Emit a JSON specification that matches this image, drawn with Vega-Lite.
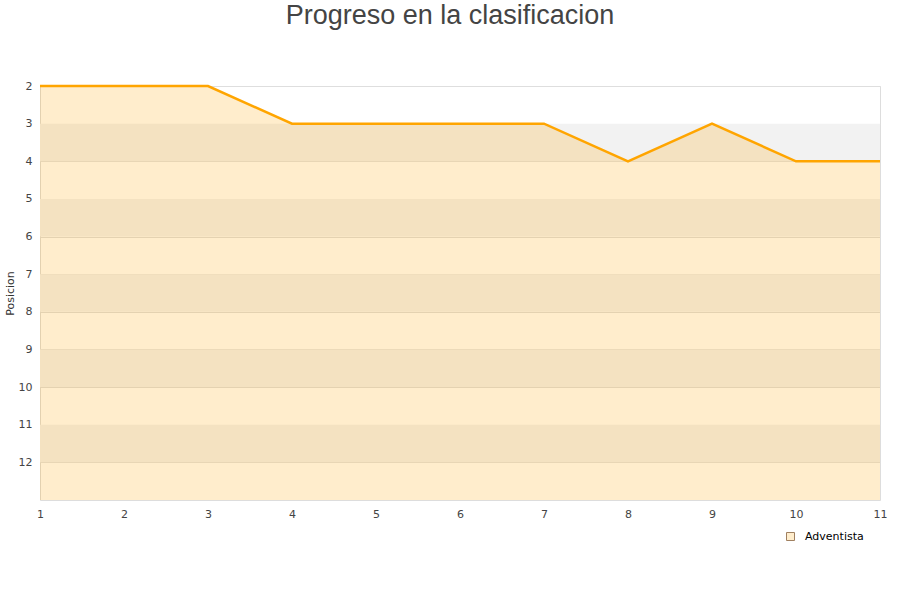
{
  "$schema": "https://vega.github.io/schema/vega-lite/v6.json",
  "width": 840,
  "height": 414,
  "autosize": {"type": "none"},
  "padding": {"left": 40, "top": 86, "right": 20, "bottom": 100},
  "title": {"text": "Progreso en la clasificacion", "font": "Liberation Sans", "fontSize": 27, "fontWeight": "normal", "color": "#444444", "anchor": "middle", "dx": -10, "offset": 50},
  "config": {
    "view": {"stroke": "#dddddd"},
    "axis": {"labelFont": "DejaVu Sans", "labelFontSize": 11, "labelColor": "#444444", "titleFont": "DejaVu Sans", "titleFontSize": 11, "titleFontWeight": "normal", "titleColor": "#333333", "ticks": false, "domain": false}
  },
  "datasets": {
    "bands": [{"y1": 3, "y2": 4}, {"y1": 5, "y2": 6}, {"y1": 7, "y2": 8}, {"y1": 9, "y2": 10}, {"y1": 11, "y2": 12}],
    "prog": [
      {"jornada": 1, "pos": 2, "equipo": "Adventista"},
      {"jornada": 2, "pos": 2, "equipo": "Adventista"},
      {"jornada": 3, "pos": 2, "equipo": "Adventista"},
      {"jornada": 4, "pos": 3, "equipo": "Adventista"},
      {"jornada": 5, "pos": 3, "equipo": "Adventista"},
      {"jornada": 6, "pos": 3, "equipo": "Adventista"},
      {"jornada": 7, "pos": 3, "equipo": "Adventista"},
      {"jornada": 8, "pos": 4, "equipo": "Adventista"},
      {"jornada": 9, "pos": 3, "equipo": "Adventista"},
      {"jornada": 10, "pos": 4, "equipo": "Adventista"},
      {"jornada": 11, "pos": 4, "equipo": "Adventista"}
    ]
  },
  "layer": [
    {
      "data": {"name": "bands"},
      "mark": {"type": "rect", "color": "#f2f2f2"},
      "encoding": {
        "y": {"field": "y1", "type": "quantitative", "scale": {"domain": [2, 13], "reverse": true, "nice": false, "zero": false},
              "axis": {"values": [2,3,4,5,6,7,8,9,10,11,12], "title": "Posicion", "gridColor": "#dedede", "labelPadding": 8, "titlePadding": 3}},
        "y2": {"field": "y2"}
      }
    },
    {
      "data": {"name": "prog"},
      "mark": {"type": "area", "color": "#ffa500", "opacity": 0.2},
      "encoding": {
        "x": {"field": "jornada", "type": "quantitative", "scale": {"domain": [1, 11], "nice": false, "zero": false},
              "axis": {"values": [1,2,3,4,5,6,7,8,9,10,11], "format": "d", "labelFlush": false, "title": null, "grid": false, "labelPadding": 8}},
        "y": {"field": "pos", "type": "quantitative"},
        "y2": {"datum": 13}
      }
    },
    {
      "data": {"name": "prog"},
      "mark": {"type": "square", "size": 0, "strokeWidth": 0, "opacity": 0},
      "encoding": {
        "x": {"field": "jornada", "type": "quantitative"},
        "y": {"field": "pos", "type": "quantitative"},
        "fill": {"field": "equipo", "type": "nominal", "scale": {"range": ["#ffedcc"]},
                 "legend": {"title": null, "orient": "none", "legendX": 745, "legendY": 445, "symbolType": "square", "symbolSize": 64,
                            "labelFont": "DejaVu Sans", "labelFontSize": 11, "labelColor": "#000000", "labelOffset": 9,
                            "symbolStrokeColor": "#a08060", "symbolStrokeWidth": 1, "symbolOpacity": 1}}
      }
    },
    {
      "data": {"name": "prog"},
      "mark": {"type": "line", "color": "#ffa500", "strokeWidth": 2.5},
      "encoding": {
        "x": {"field": "jornada", "type": "quantitative"},
        "y": {"field": "pos", "type": "quantitative"}
      }
    }
  ]
}
